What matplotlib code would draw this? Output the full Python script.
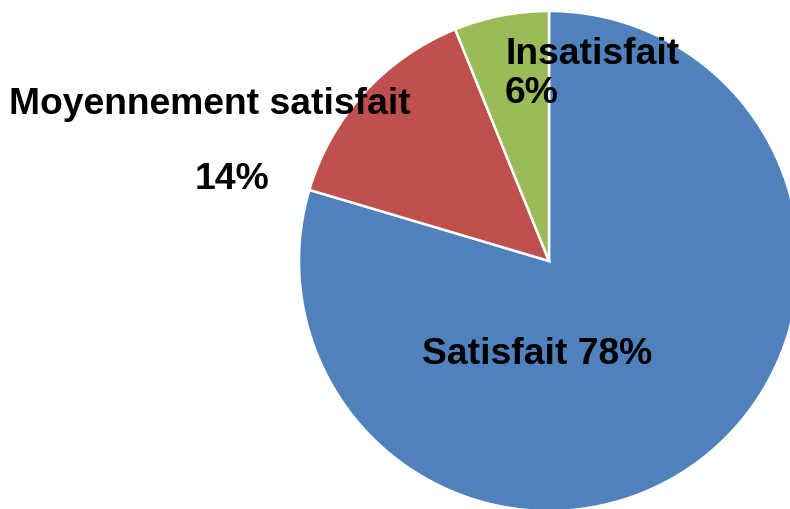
import matplotlib.pyplot as plt

categories = ["Satisfait", "Moyennement satisfait", "Insatisfait"]
values = [78, 14, 6]
colors = ["#4F81BD", "#C0504D", "#9BBB59"]

W, H = 790, 510

fig = plt.figure(figsize=(W / 100, H / 100), dpi=100)
ax = fig.add_axes([0, 0, 1, 1])

# pixel positions taken from the top-left, flipped for matplotlib
ax.pie(values, colors=colors, startangle=90, counterclock=False,
       center=(549, H - 262), radius=250,
       wedgeprops=dict(edgecolor="white", linewidth=1.8))
ax.set_xlim(0, W)
ax.set_ylim(0, H)
ax.set_aspect("equal")
ax.axis("off")

font = dict(family=["Liberation Sans", "DejaVu Sans"], fontsize=26.8,
            fontweight="bold", color="black")
ax.text(537, H - 364, "Satisfait 78%", ha="center", va="baseline", **font)
ax.text(210, H - 114, "Moyennement satisfait", ha="center", va="baseline", **font)
ax.text(232, H - 189, "14%", ha="center", va="baseline", **font)
ax.text(505, H - 64, "Insatisfait", ha="left", va="baseline", **font)
ax.text(505, H - 103, "6%", ha="left", va="baseline", **font)

fig.savefig("out.png", dpi=100)
